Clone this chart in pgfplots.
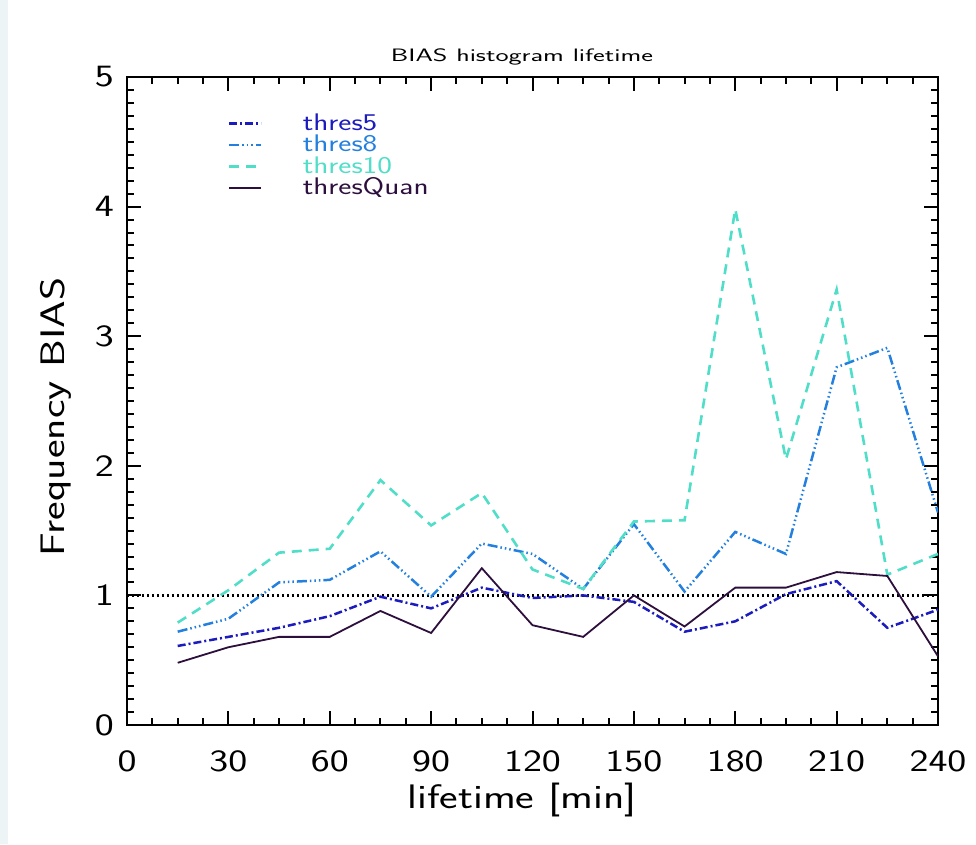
\documentclass[border=0pt]{standalone}
\usepackage{fontspec}
\usepackage{pgfplots}
\pgfplotsset{compat=1.18}

% wide, thin sans faces for the plot texts
\newfontfamily\wideface{Latin Modern Sans}[FakeStretch=1.3]
\newfontfamily\widerface{Latin Modern Sans}[FakeStretch=1.55]

\definecolor{cFive}{RGB}{28,28,190}
\definecolor{cEight}{RGB}{35,128,222}
\definecolor{cTen}{RGB}{80,222,200}
\definecolor{cQuan}{RGB}{45,15,62}
\definecolor{stripgray}{RGB}{236,244,246}

\pgfplotstableread{
t    five  eight  ten   quan
15   0.61  0.72   0.79  0.48
30   0.68  0.82   1.04  0.60
45   0.75  1.10   1.33  0.68
60   0.84  1.12   1.36  0.68
75   0.99  1.34   1.89  0.88
90   0.90  0.99   1.54  0.71
105  1.06  1.40   1.79  1.21
120  0.98  1.32   1.20  0.77
135  1.00  1.05   1.05  0.68
150  0.95  1.55   1.57  1.00
165  0.72  1.03   1.58  0.76
180  0.80  1.49   3.98  1.06
195  1.01  1.32   2.05  1.06
210  1.11  2.76   3.36  1.18
225  0.75  2.91   1.16  1.15
240  0.89  1.64   1.32  0.53
}\biasdata

\begin{document}
\begin{tikzpicture}
% page frame: the axis box's lower-left corner sits at the origin
\path[use as bounding box] (-127pt,-119pt) rectangle (849pt,725pt);
\fill[stripgray] (-127pt,-119pt) rectangle (-119pt,725pt);
\begin{axis}[
  at={(0pt,0pt)}, anchor=south west,
  scale only axis, width=811pt, height=648pt,
  xmin=0, xmax=240, ymin=0, ymax=5,
  xtick={0,30,...,240}, ytick={0,1,...,5},
  minor x tick num=3, minor y tick num=9,
  major tick length=14pt, minor tick length=7pt,
  axis line style={line width=2pt},
  every tick/.style={black, line width=2pt},
  tick label style={font=\fontsize{31}{36}\selectfont\wideface,
    /pgf/number format/assume math mode=true},
  xticklabel style={anchor=base, inner sep=0pt, yshift=-46pt},
  yticklabel style={anchor=east, inner sep=0pt, xshift=-13pt},
  title={BIAS histogram lifetime},
  title style={font=\fontsize{18}{20}\selectfont\widerface, at={(axis description cs:0.487,1)},
    anchor=base, yshift=10pt},
  xlabel={lifetime [min]},
  xlabel style={font=\fontsize{34}{40}\selectfont\wideface, at={(axis description cs:0.487,-0.1296)},
    anchor=base},
  ylabel={Frequency BIAS},
  ylabel style={font=\fontsize{34}{40}\selectfont\wideface, at={(axis description cs:-0.0765,0.475)},
    anchor=base, rotate=0},
  legend image code/.code={\draw[#1] (0pt,0pt) -- (32pt,0pt);},
  legend style={draw=none, fill=none, inner sep=0pt, row sep=0.5pt,
    at={(axis description cs:0.1245,0.945)}, anchor=north west,
    font=\fontsize{24}{28}\selectfont\wideface,
    nodes={inner sep=0pt, text height=17.5pt, text depth=3.5pt},
    /tikz/every odd column/.append style={column sep=40pt}},
  legend cell align=left,
]
\addplot[black, line width=2.2pt, dash pattern=on 2pt off 3pt, forget plot]
  coordinates {(0,1) (240,1)};
\addplot[cFive, line width=2.5pt, dash pattern=on 8pt off 3pt on 2pt off 3pt]
  table[x=t, y=five] {\biasdata};
\addlegendentry{\textcolor{cFive}{thres5}}
\addplot[cEight, line width=2.5pt,
  dash pattern=on 10pt off 3pt on 1.5pt off 3pt on 1.5pt off 3pt on 1.5pt off 3pt]
  table[x=t, y=eight] {\biasdata};
\addlegendentry{\textcolor{cEight}{thres8}}
\addplot[cTen, line width=2.6pt, dash pattern=on 10pt off 7pt]
  table[x=t, y=ten] {\biasdata};
\addlegendentry{\textcolor{cTen}{thres10}}
\addplot[cQuan, line width=1.8pt]
  table[x=t, y=quan] {\biasdata};
\addlegendentry{\textcolor{cQuan}{thresQuan}}
\end{axis}
\end{tikzpicture}
\end{document}
